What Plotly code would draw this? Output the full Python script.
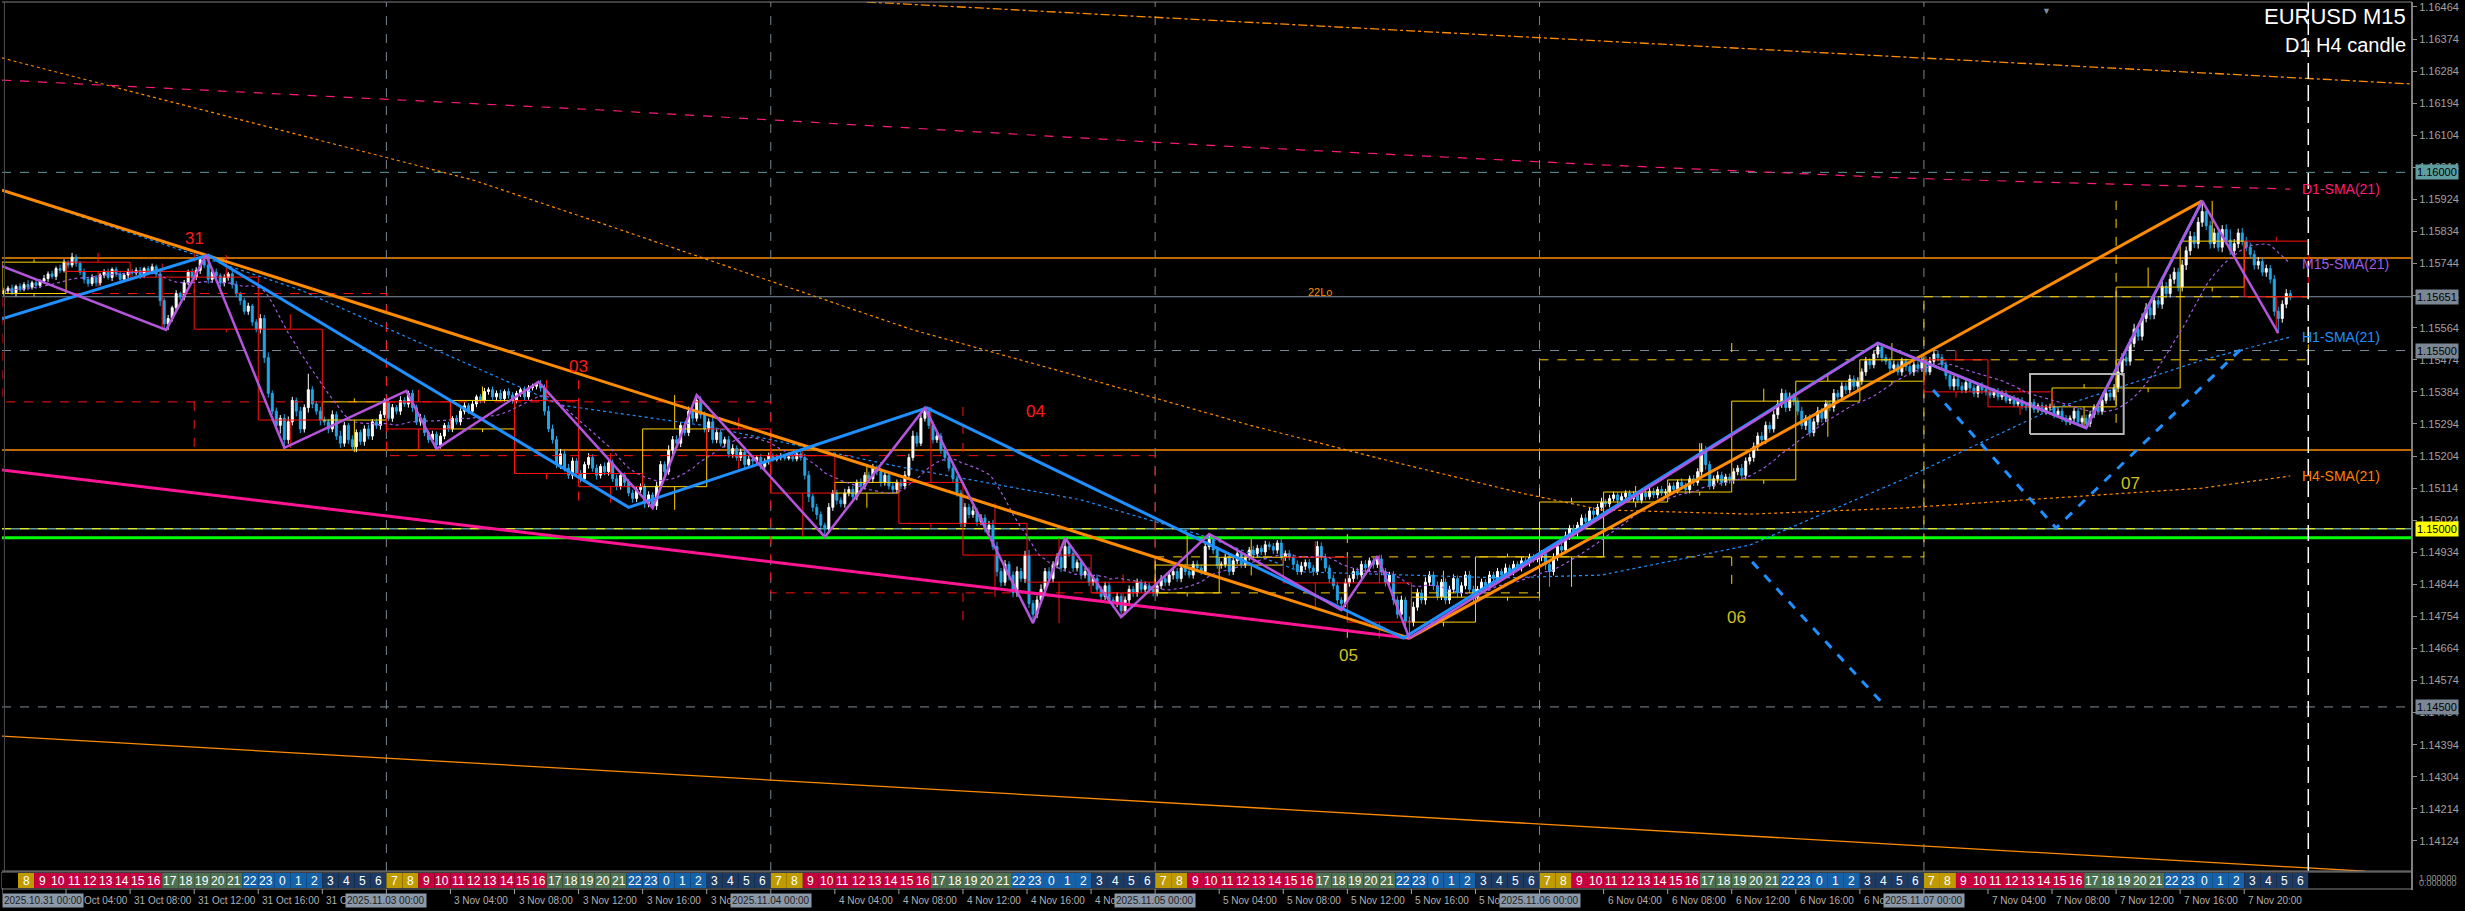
import plotly.graph_objects as go
import numpy as np
import pandas as pd

# quotes kept as points above 1.10000 (5651 -> 1.15651), one row = one H4 block of 16 M15 bars
first_open = 5660
close_rows = [
    [5668, 5675, 5662, 5680, 5672, 5685, 5678, 5690, 5683, 5695, 5702, 5715, 5708, 5730, 5725, 5748],
    [5740, 5762, 5745, 5720, 5700, 5688, 5705, 5690, 5712, 5720, 5705, 5728, 5715, 5700, 5712, 5722],
    [5718, 5725, 5710, 5730, 5722, 5735, 5715, 5640, 5575, 5590, 5620, 5660, 5650, 5690, 5720, 5706],
    [5725, 5755, 5740, 5700, 5720, 5710, 5690, 5705, 5715, 5685, 5660, 5640, 5610, 5625, 5580, 5560],
    [5590, 5480, 5380, 5330, 5290, 5310, 5250, 5300, 5360, 5330, 5280, 5340, 5390, 5350, 5330, 5305],
    [5300, 5280, 5320, 5260, 5240, 5290, 5250, 5230, 5270, 5245, 5280, 5260, 5300, 5290, 5320, 5356],
    [5310, 5340, 5330, 5360, 5350, 5380, 5340, 5300, 5310, 5270, 5250, 5265, 5235, 5260, 5290, 5280],
    [5310, 5300, 5330, 5345, 5330, 5350, 5370, 5360, 5385, 5390, 5370, 5380, 5365, 5385, 5375, 5360],
    [5380, 5390, 5370, 5395, 5400, 5405, 5395, 5330, 5280, 5250, 5180, 5210, 5170, 5150, 5190, 5155],
    [5140, 5180, 5200, 5170, 5150, 5175, 5160, 5185, 5140, 5120, 5150, 5130, 5100, 5085, 5110, 5118],
    [5070, 5095, 5065, 5120, 5180, 5160, 5220, 5250, 5240, 5290, 5270, 5330, 5310, 5360, 5320, 5280],
    [5300, 5250, 5270, 5240, 5250, 5210, 5225, 5200, 5215, 5180, 5195, 5190, 5200, 5175, 5190, 5205],
    [5195, 5200, 5205, 5198, 5202, 5196, 5210, 5200, 5150, 5090, 5060, 5040, 5010, 5000, 5060, 5100],
    [5080, 5070, 5100, 5110, 5090, 5130, 5120, 5150, 5140, 5170, 5160, 5130, 5150, 5120, 5110, 5130],
    [5120, 5150, 5200, 5260, 5240, 5310, 5330, 5290, 5250, 5260, 5220, 5200, 5170, 5140, 5100, 5015],
    [5060, 5040, 5050, 5020, 5030, 5000, 5010, 4950, 4880, 4850, 4900, 4870, 4820, 4880, 4860, 4926],
    [4790, 4760, 4800, 4830, 4880, 4860, 4900, 4920, 4890, 4950, 4930, 4890, 4905, 4870, 4880, 4850],
    [4860, 4830, 4810, 4840, 4800, 4790, 4810, 4770, 4800, 4830, 4820, 4850, 4830, 4840, 4830, 4820],
    [4840, 4860, 4850, 4870, 4880, 4860, 4890, 4880, 4870, 4900, 4890, 4880, 4950, 4970, 4940, 4898],
    [4900, 4920, 4880, 4910, 4930, 4900, 4920, 4940, 4930, 4945, 4935, 4955, 4950, 4940, 4960, 4920],
    [4930, 4920, 4900, 4880, 4895, 4905, 4890, 4880, 4950, 4920, 4890, 4860, 4840, 4800, 4790, 4848],
    [4860, 4880, 4870, 4900, 4890, 4910, 4900, 4915, 4880, 4850, 4870, 4800, 4760, 4800, 4740, 4738],
    [4780, 4820, 4800, 4850, 4870, 4840, 4810, 4850, 4800, 4830, 4860, 4820, 4840, 4870, 4830, 4808],
    [4830, 4850, 4840, 4870, 4860, 4880, 4870, 4890, 4880, 4900, 4890, 4910, 4905, 4920, 4915, 4921],
    [4930, 4900, 4880, 4920, 4950, 4940, 4980, 5000, 4990, 5010, 5030, 5020, 5050, 5040, 5060, 5075],
    [5070, 5085, 5095, 5080, 5090, 5100, 5085, 5095, 5080, 5100, 5090, 5105, 5095, 5110, 5100, 5103],
    [5120, 5110, 5130, 5120, 5110, 5140, 5130, 5160, 5220, 5180, 5120, 5140, 5150, 5130, 5145, 5137],
    [5160, 5170, 5150, 5190, 5200, 5230, 5260, 5250, 5290, 5280, 5320, 5350, 5380, 5340, 5370, 5358],
    [5330, 5290, 5310, 5270, 5300, 5330, 5310, 5350, 5340, 5380, 5370, 5400, 5390, 5420, 5400, 5414],
    [5440, 5470, 5460, 5490, 5510, 5480, 5470, 5450, 5460, 5440, 5470, 5455, 5440, 5460, 5450, 5474],
    [5440, 5470, 5490, 5480, 5460, 5430, 5400, 5420, 5400, 5390, 5410, 5395, 5380, 5400, 5390, 5384],
    [5375, 5385, 5370, 5380, 5360, 5365, 5350, 5360, 5345, 5340, 5355, 5335, 5345, 5330, 5340, 5342],
    [5320, 5330, 5310, 5300, 5310, 5330, 5300, 5310, 5295, 5320, 5340, 5330, 5360, 5380, 5370, 5395],
    [5440, 5480, 5470, 5520, 5560, 5540, 5590, 5620, 5600, 5640, 5630, 5680, 5660, 5700, 5720, 5678],
    [5740, 5780, 5820, 5800, 5860, 5890, 5850, 5800, 5830, 5790, 5840, 5810, 5780, 5800, 5830, 5807],
    [5790, 5770, 5740, 5750, 5720, 5730, 5700, 5610, 5590, 5630, 5660, 5651],
]
# upper / lower shadow length of each bar, in points
up_rows = [
    [8, 6, 10, 5, 9, 7, 12, 6, 8, 5, 10, 7, 9, 6, 11, 8],
    [5, 12, 8, 6, 10, 5, 9, 7, 6, 8, 10, 5, 7, 9, 6, 8],
    [6, 8, 10, 5, 7, 9, 6, 12, 8, 10, 6, 9, 5, 8, 7, 10],
    [9, 6, 13, 8, 5, 10, 7, 9, 6, 8, 10, 5, 7, 9, 6, 8],
    [12, 10, 15, 8, 10, 9, 12, 15, 10, 8, 12, 9, 45, 10, 8, 12],
    [10, 8, 12, 9, 15, 10, 7, 12, 9, 8, 10, 12, 8, 9, 11, 10],
    [8, 10, 7, 12, 9, 7, 10, 8, 12, 9, 6, 10, 8, 9, 7, 10],
    [6, 9, 8, 10, 7, 9, 6, 8, 10, 7, 9, 8, 10, 6, 9, 8],
    [7, 6, 9, 8, 7, 7, 12, 10, 15, 12, 10, 14, 9, 12, 10, 8],
    [10, 8, 12, 9, 10, 7, 11, 8, 9, 12, 10, 8, 9, 10, 7, 9],
    [8, 10, 7, 12, 10, 9, 14, 10, 12, 9, 11, 13, 10, 15, 12, 9],
    [10, 12, 9, 11, 8, 10, 12, 9, 10, 8, 11, 9, 7, 10, 8, 9],
    [6, 8, 7, 5, 6, 8, 7, 9, 10, 12, 8, 10, 9, 7, 12, 9],
    [10, 8, 12, 9, 10, 8, 11, 9, 10, 12, 8, 10, 9, 11, 10, 8],
    [9, 12, 10, 15, 11, 10, 9, 12, 10, 11, 9, 10, 8, 12, 10, 9],
    [12, 10, 14, 9, 11, 10, 12, 15, 13, 10, 12, 9, 11, 14, 10, 12],
    [15, 10, 12, 14, 10, 12, 9, 11, 13, 24, 10, 12, 9, 11, 10, 12],
    [10, 12, 9, 11, 10, 8, 12, 9, 10, 11, 9, 10, 8, 12, 9, 10],
    [9, 10, 8, 11, 9, 10, 8, 12, 9, 10, 11, 9, 15, 15, 12, 10],
    [8, 10, 12, 9, 11, 8, 10, 9, 12, 10, 8, 11, 9, 10, 8, 12],
    [9, 10, 8, 11, 12, 9, 10, 8, 15, 12, 10, 9, 11, 10, 8, 12],
    [10, 9, 11, 10, 12, 9, 10, 8, 12, 10, 9, 11, 10, 12, 9, 14],
    [15, 12, 10, 14, 11, 10, 12, 9, 11, 10, 12, 9, 10, 11, 12, 10],
    [9, 10, 8, 11, 9, 10, 8, 12, 9, 10, 8, 11, 9, 10, 8, 9],
    [10, 12, 9, 11, 10, 9, 12, 10, 11, 9, 10, 12, 9, 11, 10, 12],
    [8, 10, 9, 7, 10, 8, 9, 10, 7, 9, 8, 10, 9, 8, 10, 9],
    [9, 10, 8, 12, 10, 9, 11, 10, 20, 12, 10, 9, 11, 10, 9, 10],
    [10, 9, 12, 10, 11, 12, 10, 12, 11, 10, 12, 11, 13, 10, 12, 11],
    [10, 12, 9, 11, 10, 12, 9, 11, 10, 12, 9, 11, 10, 12, 10, 11],
    [10, 12, 9, 11, 11, 10, 9, 10, 12, 9, 10, 8, 11, 9, 10, 9],
    [10, 12, 9, 11, 10, 9, 12, 10, 9, 11, 10, 8, 10, 9, 11, 10],
    [8, 9, 10, 8, 9, 7, 10, 8, 9, 10, 8, 9, 7, 10, 8, 9],
    [9, 8, 10, 9, 8, 10, 9, 8, 10, 11, 9, 10, 11, 12, 10, 11],
    [15, 12, 14, 13, 15, 12, 14, 13, 12, 14, 13, 15, 12, 14, 13, 12],
    [14, 12, 15, 13, 14, 30, 15, 14, 13, 15, 12, 14, 30, 13, 12, 14],
    [12, 13, 11, 12, 10, 11, 10, 12, 13, 11, 12, 10],
]
dn_rows = [
    [7, 9, 6, 10, 8, 6, 9, 7, 10, 8, 6, 9, 7, 10, 8, 6],
    [9, 7, 10, 8, 12, 9, 7, 10, 8, 9, 6, 10, 8, 9, 7, 10],
    [8, 7, 9, 6, 10, 8, 9, 15, 17, 17, 9, 10, 8, 9, 7, 10],
    [8, 10, 9, 12, 10, 9, 12, 10, 9, 11, 10, 12, 9, 10, 11, 9],
    [12, 15, 12, 10, 14, 23, 23, 12, 10, 15, 12, 10, 14, 12, 10, 15],
    [10, 12, 9, 11, 13, 10, 12, 9, 15, 10, 12, 9, 11, 10, 12, 9],
    [8, 10, 9, 11, 8, 10, 12, 9, 11, 10, 9, 8, 11, 10, 9, 8],
    [9, 8, 10, 9, 8, 10, 9, 8, 7, 9, 8, 10, 9, 8, 10, 9],
    [8, 10, 9, 8, 7, 9, 10, 12, 9, 11, 10, 12, 9, 10, 11, 9],
    [10, 9, 11, 10, 12, 9, 10, 11, 9, 12, 10, 11, 9, 12, 10, 9],
    [12, 10, 7, 12, 10, 11, 9, 12, 10, 11, 9, 10, 12, 9, 11, 10],
    [9, 11, 10, 9, 12, 10, 11, 9, 10, 12, 9, 11, 10, 9, 8, 10],
    [7, 6, 8, 7, 6, 8, 7, 9, 12, 15, 12, 14, 15, 23, 12, 10],
    [12, 10, 11, 9, 12, 10, 11, 10, 9, 11, 10, 12, 9, 10, 11, 10],
    [9, 10, 11, 9, 10, 8, 9, 10, 11, 9, 10, 11, 9, 12, 10, 11],
    [10, 11, 9, 12, 10, 11, 12, 10, 14, 12, 10, 15, 12, 11, 10, 12],
    [12, 25, 11, 10, 12, 9, 10, 11, 12, 10, 9, 11, 10, 12, 9, 11],
    [10, 11, 12, 10, 11, 12, 10, 18, 11, 10, 12, 11, 10, 9, 11, 10],
    [10, 9, 11, 10, 12, 9, 10, 11, 9, 10, 12, 9, 10, 9, 11, 10],
    [10, 9, 11, 10, 9, 11, 10, 9, 10, 11, 9, 10, 9, 11, 10, 9],
    [10, 9, 11, 10, 9, 11, 10, 12, 10, 9, 11, 12, 10, 11, 18, 10],
    [11, 10, 12, 9, 11, 10, 12, 10, 11, 12, 10, 14, 12, 11, 13, 45],
    [12, 10, 11, 13, 10, 12, 11, 10, 12, 11, 10, 12, 11, 10, 12, 11],
    [10, 9, 11, 10, 9, 11, 10, 9, 10, 11, 9, 10, 9, 11, 10, 9],
    [12, 15, 43, 11, 10, 12, 9, 11, 10, 12, 9, 11, 10, 12, 9, 10],
    [9, 10, 8, 9, 10, 8, 9, 10, 8, 9, 10, 8, 9, 10, 8, 9],
    [10, 9, 11, 10, 9, 11, 10, 9, 12, 14, 10, 9, 11, 10, 9, 10],
    [11, 10, 12, 11, 10, 12, 11, 10, 12, 11, 10, 12, 11, 13, 10, 12],
    [12, 11, 13, 12, 11, 10, 12, 11, 10, 12, 11, 10, 12, 11, 10, 12],
    [10, 11, 12, 10, 11, 12, 10, 11, 12, 10, 11, 12, 10, 11, 12, 10],
    [10, 9, 11, 10, 12, 11, 10, 12, 11, 10, 9, 11, 10, 12, 11, 10],
    [9, 8, 10, 9, 8, 10, 9, 8, 10, 9, 8, 10, 9, 8, 10, 9],
    [10, 9, 11, 10, 9, 11, 10, 9, 12, 10, 9, 11, 10, 9, 11, 10],
    [12, 11, 13, 12, 11, 13, 12, 11, 13, 12, 11, 13, 12, 11, 13, 12],
    [12, 14, 13, 12, 14, 13, 12, 14, 13, 12, 14, 13, 12, 14, 13, 12],
    [12, 11, 13, 12, 11, 13, 12, 14, 41, 12, 11, 10],
]

day_names = ["31 Oct", "3 Nov", "4 Nov", "5 Nov", "6 Nov", "7 Nov"]
day_stamps = ["2025.10.31 00:00", "2025.11.03 00:00", "2025.11.04 00:00",
              "2025.11.05 00:00", "2025.11.06 00:00", "2025.11.07 00:00"]
hour_cycle = [7, 8, 9, 10, 11, 12, 13, 14, 15, 16, 17, 18, 19, 20, 21, 22, 23, 0, 1, 2, 3, 4, 5, 6]
hour_colors = ["#c09b00"] * 2 + ["#c6003e"] * 8 + ["#4d7050"] * 5 + ["#1562aa"] * 5 + ["#1d3a62"] * 4
price_ticks = [1.16464, 1.16374, 1.16284, 1.16194, 1.16104, 1.16014, 1.15924, 1.15834, 1.15744,
               1.15654, 1.15564, 1.15474, 1.15384, 1.15294, 1.15204, 1.15114, 1.15024, 1.14934,
               1.14844, 1.14754, 1.14664, 1.14574, 1.14484, 1.14394, 1.14304, 1.14214, 1.14124]

# indicator curves and drawn objects: bar index / points
h1_sma_bar = [-0.5, 74, 139, 174, 224, 269, 299, 324, 374, 399, 436, 474, 511, 549, 571]
h1_sma_val = [5950, 5670, 5347, 5291, 5173, 5081, 4982, 4879, 4862, 4870, 4954, 5137, 5333, 5473, 5538]
h4_sma_bar = [-0.5, 117, 149, 227, 269, 311, 344, 379, 399, 436, 474, 511, 549, 571]
h4_sma_val = [6321, 5979, 5858, 5558, 5426, 5291, 5196, 5100, 5053, 5041, 5058, 5086, 5114, 5148]
d1_sma_bar = [-0.5, 149, 299, 399, 474, 571]
d1_sma_val = [6259, 6175, 6077, 6021, 5984, 5953]
dashdot_bar = [215.5, 475, 575, 601.4]
dashdot_val = [6478, 6324, 6265, 6248]
floor_bar = [-0.5, 589.7]
floor_val = [4418, 4039]

zz_m15_bar = [-0.5, 40.5, 50.5, 70, 100.5, 108, 133.5, 162, 173, 205, 230, 257, 265, 279, 301,
              334, 343, 351, 468, 520, 549, 568]
zz_m15_val = [5737, 5558, 5768, 5227, 5387, 5224, 5412, 5058, 5375, 4977, 5339, 4735, 4974, 4752,
              4985, 4772, 4923, 4693, 5521, 5283, 5920, 5549]
zz_h1_bar = [-0.5, 51, 156, 230.5, 349.5, 468, 520, 549]
zz_h1_val = [5589, 5768, 5060, 5339, 4693, 5521, 5283, 5920]
trend_down_bar = [-0.5, 351]
trend_down_val = [5950, 4693]
trend_up_bar = [351, 549]
trend_up_val = [4693, 5920]
pink_bar = [-0.5, 351]
pink_val = [5165, 4693]
proj1_bar = [436.6, 470]
proj1_val = [4907, 4500]
proj2_bar = [481.8, 512.5, 558.5]
proj2_val = [5389, 5002, 5502]
range_box_bar = [506, 529.4]
range_box_val = [5266, 5434]

level_h = [5760, 5221]
level_green = 4975
round_levels = [6000, 5500, 5000, 4500]

swing_text = ["31", "03", "04", "05", "06", "07"]
swing_bar = [47.5, 143.4, 257.5, 335.7, 432.8, 531]
swing_val = [5813, 5454, 5328, 4643, 4750, 5128]
swing_col = ["#ff1a1a", "#ff1a1a", "#ff1a1a", "#cfc21b", "#cfc21b", "#cfc21b"]


def P(v):
    return 1.1 + np.asarray(v, dtype=float) / 1e5


closes = np.array([c for r in close_rows for c in r], dtype=float)
ups = np.array([c for r in up_rows for c in r], dtype=float)
dns = np.array([c for r in dn_rows for c in r], dtype=float)
assert len(closes) == len(ups) == len(dns) == 572
n = len(closes)
bars = np.arange(n)
opens = np.concatenate([[first_open], closes[:-1]])
highs = np.maximum(opens, closes) + ups
lows = np.minimum(opens, closes) - dns

Y_LO, Y_HI = P(4039.6), P(6478)
X_LO, X_HI = -0.5, 601.4


def py(ypix):
    return (871 - ypix) / 869.0


fig = go.Figure()

fig.add_trace(go.Candlestick(
    x=bars, open=P(opens), high=P(highs), low=P(lows), close=P(closes),
    increasing=dict(line=dict(color="#ffffff", width=1), fillcolor="#ffffff"),
    decreasing=dict(line=dict(color="#22a6e8", width=1), fillcolor="#22a6e8"),
    whiskerwidth=0, hoverinfo="skip"))


def box_paths(step, dashed):
    out = {}
    for k in range(0, n, step):
        seg = slice(k, min(k + step, n))
        o, c = opens[k], closes[seg][-1]
        h, l = highs[seg].max(), lows[seg].min()
        col = "#ffd200" if c >= o else "#ff1010"
        xs, ys = out.setdefault(col, ([], []))
        x0, x1, xc = k - 0.5, k + step - 0.5, k + step / 2 - 0.5
        top, bot = max(o, c), min(o, c)
        xs += [x0, x1, x1, x0, x0, None, xc, xc, None, xc, xc, None]
        ys += [P(top), P(top), P(bot), P(bot), P(top), None, P(h), P(top), None, P(bot), P(l), None]
    for col, (xs, ys) in out.items():
        fig.add_trace(go.Scatter(x=xs, y=ys, mode="lines", hoverinfo="skip",
                                 line=dict(color=col, width=1, dash="dash" if dashed else "solid")))


box_paths(96, True)
box_paths(16, False)


def line(xb, yv, color, width, dash="solid"):
    fig.add_trace(go.Scatter(x=xb, y=P(yv), mode="lines", hoverinfo="skip",
                             line=dict(color=color, width=width, dash=dash)))


m15_sma = pd.Series(closes).rolling(21, min_periods=1).mean().values
line(h4_sma_bar, h4_sma_val, "#ff8c00", 1.2, "dot")
line(d1_sma_bar, d1_sma_val, "#ff1a7a", 1.2, "dash")
line(h1_sma_bar, h1_sma_val, "#1e90ff", 1.2, "dot")
line(bars, m15_sma, "#a45ae6", 1.2, "dot")
line(dashdot_bar, dashdot_val, "#ff8c00", 1.3, "dashdot")
line(floor_bar, floor_val, "#ff8c00", 1.3)
line(pink_bar, pink_val, "#ff1493", 3)
line(trend_down_bar, trend_down_val, "#ff8c00", 3)
line(trend_up_bar, trend_up_val, "#ff8c00", 3)
line(proj1_bar, proj1_val, "#1e90ff", 3, "dash")
line(proj2_bar, proj2_val, "#1e90ff", 3, "dash")
line(zz_h1_bar, zz_h1_val, "#1e90ff", 3)
line(zz_m15_bar, zz_m15_val, "#b455dc", 2.5)
fig.add_trace(go.Scatter(
    x=[range_box_bar[0], range_box_bar[1], range_box_bar[1], range_box_bar[0], range_box_bar[0]],
    y=P([range_box_val[0], range_box_val[0], range_box_val[1], range_box_val[1], range_box_val[0]]),
    mode="lines", line=dict(color="#b4b4b4", width=2), hoverinfo="skip"))

shapes = []
ann = []


def hline(v, color, width, dash="solid"):
    shapes.append(dict(type="line", xref="paper", x0=0, x1=1, yref="y", y0=P(v), y1=P(v),
                       line=dict(color=color, width=width, dash=dash), layer="below"))


hline(round_levels[0], "#5f9ea0", 1, "dash")
hline(round_levels[1], "#7f8c99", 1, "dash")
hline(round_levels[3], "#7f8c99", 1, "dash")
hline(round_levels[2], "#5f9ea0", 1.5)
hline(round_levels[2], "#ffff00", 1, "dash")
hline(level_green, "#00ff00", 3)
for v in level_h:
    hline(v, "#ff8c00", 1.5)
hline(closes[-1], "#8090a0", 1.2)

# day separators and end-of-week line
for d in range(1, 6):
    shapes.append(dict(type="line", xref="x", x0=96 * d - 0.5, x1=96 * d - 0.5, yref="paper", y0=0, y1=1,
                       line=dict(color="#7a8590", width=1, dash="dash"), layer="below"))
shapes.append(dict(type="line", xref="x", x0=575.5, x1=575.5, yref="paper", y0=0, y1=1,
                   line=dict(color="#ffffff", width=1.5, dash="16px,6px")))

# frame
shapes.append(dict(type="line", xref="paper", x0=0, x1=1, yref="paper", y0=1, y1=1, line=dict(color="#808080", width=1)))
shapes.append(dict(type="line", xref="paper", x0=0, x1=1, yref="paper", y0=0, y1=0, line=dict(color="#808080", width=1)))
shapes.append(dict(type="line", xref="paper", x0=0.001, x1=0.001, yref="paper", y0=0, y1=1, line=dict(color="#505050", width=1)))
shapes.append(dict(type="rect", xref="paper", x0=0.0, x1=1, yref="paper", y0=py(889), y1=py(872),
                   line=dict(color="#808080", width=1)))
shapes.append(dict(type="line", xref="paper", x0=1, x1=1, yref="paper", y0=py(890), y1=1,
                   line=dict(color="#808080", width=2)))

# hour strip
for j in range(6 * 24):
    h = hour_cycle[j % 24]
    col = "#000000" if j == 0 else hour_colors[j % 24]
    shapes.append(dict(type="rect", xref="x", x0=4 * j - 0.5, x1=4 * j + 3.5, yref="paper",
                       y0=py(888), y1=py(873), fillcolor=col, line=dict(width=0), layer="above"))
    if j > 0:
        ann.append(dict(x=4 * j + 1.5, y=py(880.5), xref="x", yref="paper", text=str(h), showarrow=False,
                        font=dict(color="#ffffff", size=12, family="Liberation Sans"), xanchor="center", yanchor="middle"))

# time labels (the day-start ones sit under the dated boxes)
for k in range(36):
    xb = 16 * k - 0.5
    shapes.append(dict(type="line", xref="x", x0=xb, x1=xb, yref="paper", y0=py(894), y1=py(889),
                       line=dict(color="#a0a0a0", width=1)))
    if k % 6:
        ann.append(dict(x=xb, y=py(900), xref="x", yref="paper", xanchor="left", yanchor="middle", xshift=2,
                        text=f"{day_names[k // 6]} {(k % 6) * 4:02d}:00", showarrow=False,
                        font=dict(color="#b0b0b0", size=10, family="Liberation Sans")))
for d in range(6):
    ann.append(dict(x=96 * d - 0.5, y=py(900), xref="x", yref="paper", xanchor="left" if d == 0 else "center",
                    yanchor="middle", text=day_stamps[d], showarrow=False, bgcolor="#8a98a8", borderpad=1,
                    font=dict(color="#1e1e1e", size=10, family="Liberation Sans")))

# price labels on the axis
for v, bg in [(round_levels[0], "#5f9ea0"), (closes[-1], "#7b8794"), (round_levels[1], "#7b8794"),
              (round_levels[2], "#ffff00"), (round_levels[3], "#7b8794")]:
    ann.append(dict(x=1, xref="paper", y=float(P(v)), yref="y", xanchor="left", yanchor="middle", xshift=3,
                    text=f"{float(P(v)):.5f}", showarrow=False, bgcolor=bg, borderpad=1,
                    font=dict(color="#000000", size=11, family="Liberation Sans")))
ann.append(dict(x=1, xref="paper", y=py(878), yref="paper", xanchor="left", yanchor="middle", xshift=5,
                text="1.000000", showarrow=False, font=dict(color="#909090", size=9, family="Liberation Sans")))
ann.append(dict(x=1, xref="paper", y=py(883), yref="paper", xanchor="left", yanchor="middle", xshift=5,
                text="0.000000", showarrow=False, font=dict(color="#909090", size=9, family="Liberation Sans")))

# indicator names
for text, v, col in [("D1-SMA(21)", d1_sma_val[-1], "#ff1a7a"), ("M15-SMA(21)", m15_sma[-1], "#9d5ce6"),
                     ("H1-SMA(21)", h1_sma_val[-1], "#1e90ff"), ("H4-SMA(21)", h4_sma_val[-1], "#ff8000")]:
    ann.append(dict(x=573.5, y=float(P(v)), xref="x", yref="y", xanchor="left", yanchor="middle", text=text,
                    showarrow=False, font=dict(color=col, size=14, family="Liberation Sans")))

for t, xb, v, c in zip(swing_text, swing_bar, swing_val, swing_col):
    ann.append(dict(x=xb, y=float(P(v)), xref="x", yref="y", text=t, showarrow=False,
                    font=dict(color=c, size=17, family="Liberation Sans")))
ann.append(dict(x=328.7, y=float(P(5664)), xref="x", yref="y", text="22Lo", showarrow=False,
                font=dict(color="#ff8c00", size=11, family="Liberation Sans")))

ann.append(dict(x=0.9983, y=py(17), xref="paper", yref="paper", xanchor="right", yanchor="middle",
                text="EURUSD M15", showarrow=False, font=dict(color="#ffffff", size=22, family="Liberation Sans")))
ann.append(dict(x=0.9983, y=py(45), xref="paper", yref="paper", xanchor="right", yanchor="middle",
                text="D1 H4 candle", showarrow=False, font=dict(color="#ffffff", size=20, family="Liberation Sans")))
ann.append(dict(x=510.2, y=1, xref="x", yref="paper", yanchor="top", text="▼", showarrow=False,
                font=dict(color="#8090a0", size=9)))

fig.update_layout(
    width=2465, height=911,
    paper_bgcolor="#000000", plot_bgcolor="#000000",
    margin=dict(l=2, r=53, t=2, b=40),
    showlegend=False, boxgap=0.3,
    shapes=shapes, annotations=ann,
    xaxis=dict(range=[X_LO, X_HI], visible=False, rangeslider=dict(visible=False)),
    yaxis=dict(range=[Y_LO, Y_HI], side="right", tickvals=price_ticks,
               ticktext=[f"{t:.5f}" for t in price_ticks], ticks="outside", ticklen=4,
               tickcolor="#909090", showgrid=False, zeroline=False, showline=False,
               tickfont=dict(color="#a0a0a0", size=11, family="Liberation Sans")),
)

fig.write_html("out.html", config={"displayModeBar": False},
               post_script="document.body.style.margin='0';document.body.style.background='#000';")
